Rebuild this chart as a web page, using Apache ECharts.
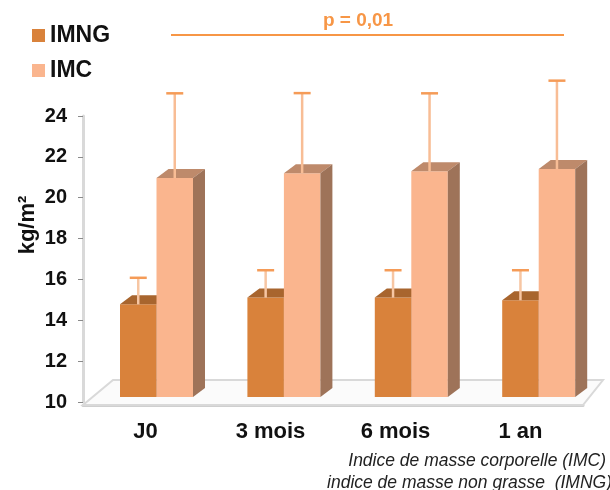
<!DOCTYPE html>
<html>
<head>
<meta charset="utf-8">
<script src="https://cdn.jsdelivr.net/npm/echarts@6/dist/echarts.min.js"></script>
<style>
  html, body { margin: 0; padding: 0; background: #fff; }
  #chart { width: 610px; height: 490px; }
</style>
</head>
<body>
<div id="chart"></div>
<script>
// categories and values
const periods = ["J0", "3 mois", "6 mois", "1 an"]
const imng = [14.78, 15.11, 15.11, 14.98]
const imngSd = [1.30, 1.34, 1.34, 1.47]
const imc = [20.96, 21.2, 21.3, 21.4]
const imcSd = [4.15, 3.92, 3.81, 4.33]
const yTicks = { min: 10, max: 24, step: 2 }

const FONT = "Liberation Sans, Arial, sans-serif"

// 3d look
const depthX = 12
const depthY = 9
const barW = 36.5
const lift = 5 // bars stand a bit above the floor front edge

function barRenderer(slot, front, top, side, whisker, cap) {
    return function (params, api) {
        let idx = api.value(0)
        let v = api.value(1)
        let sd = api.value(2)
        let base = api.coord([idx, yTicks.min])
        let head = api.coord([idx, v])
        let capPt = api.coord([idx, v + sd])
        let band = api.size([1, 0])[0]
        let x0 = base[0] - band / 2 + 37 + 2.4 * idx + slot * barW
        let yb = base[1] - lift
        let yt = head[1]
        let cx = x0 + barW / 2
        return {
            type: "group",
            children: [
                { type: "rect", shape: { x: x0, y: yt, width: barW, height: yb - yt }, style: { fill: front } },
                { type: "polygon", shape: { points: [[x0, yt], [x0 + depthX, yt - depthY], [x0 + barW + depthX, yt - depthY], [x0 + barW, yt]] }, style: { fill: top } },
                { type: "polygon", shape: { points: [[x0 + barW, yt], [x0 + barW + depthX, yt - depthY], [x0 + barW + depthX, yb - depthY], [x0 + barW, yb]] }, style: { fill: side } },
                { type: "line", shape: { x1: cx, y1: yt, x2: cx, y2: capPt[1] }, style: { stroke: whisker, lineWidth: 2.5 } },
                { type: "line", shape: { x1: cx - 8.5, y1: capPt[1], x2: cx + 8.5, y2: capPt[1] }, style: { stroke: cap, lineWidth: 2.5 } }
            ]
        }
    }
}

function floorRenderer(params, api) {
    let p = api.coord([0, yTicks.min])
    let band = api.size([1, 0])[0]
    let left = p[0] - band / 2
    let right = left + band * periods.length
    let y = p[1] + 3
    return {
        type: "polygon",
        shape: { points: [[left, y], [left + 30, y - 25], [right + 20, y - 25], [right, y]] },
        style: { fill: "#fbfbfb", stroke: "#d9d9d9", lineWidth: 2 }
    }
}

let myChart = echarts.init(document.getElementById("chart"), null, { renderer: "canvas" })
let option = {
    animation: false,
    backgroundColor: "#fff",
    grid: { left: 83, right: 27, top: 116, bottom: 88 },
    legend: {
        data: ["IMNG", "IMC"],
        orient: "vertical",
        left: 32,
        top: 24,
        padding: 0,
        icon: "rect",
        itemWidth: 13,
        itemHeight: 13,
        itemGap: 12,
        textStyle: { fontFamily: FONT, fontSize: 23, fontWeight: "bold", color: "#111" }
    },
    xAxis: {
        type: "category",
        data: periods,
        offset: 3,
        axisLine: { lineStyle: { color: "#cfcfcf", width: 3 } },
        axisTick: { length: 6, lineStyle: { color: "#8a8a8a" } },
        axisLabel: { margin: 16, fontFamily: FONT, fontSize: 22, fontWeight: "bold", color: "#111" },
        splitLine: { show: false }
    },
    yAxis: {
        type: "value",
        min: yTicks.min,
        max: yTicks.max,
        interval: yTicks.step,
        axisLine: { show: true, lineStyle: { color: "#d9d9d9", width: 3 } },
        axisTick: { show: true, length: 5, lineStyle: { color: "#8a8a8a" } },
        axisLabel: { margin: 16, fontFamily: FONT, fontSize: 20, fontWeight: "bold", color: "#111" },
        splitLine: { show: false }
    },
    graphic: [
        { type: "text", x: 28, y: 225, rotation: Math.PI / 2, style: { text: "kg/m²", font: "bold 22px " + FONT, fill: "#111", align: "center", verticalAlign: "middle" } },
        { type: "line", shape: { x1: 171, y1: 35, x2: 564, y2: 35 }, style: { stroke: "#F79646", lineWidth: 2 } },
        { type: "text", x: 358, y: 21, style: { text: "p = 0,01", font: "bold 19px " + FONT, fill: "#F79646", align: "center", verticalAlign: "middle" } },
        { type: "text", x: 606, y: 461, style: { text: "Indice de masse corporelle (IMC)", font: "italic 17.5px " + FONT, fill: "#222", align: "right", verticalAlign: "middle" } },
        { type: "text", x: 612, y: 483, style: { text: "indice de masse non grasse  (IMNG)", font: "italic 17.5px " + FONT, fill: "#222", align: "right", verticalAlign: "middle" } }
    ],
    series: [
        {
            type: "custom",
            silent: true,
            clip: false,
            z: 1,
            renderItem: floorRenderer,
            data: [[0, yTicks.min]]
        },
        {
            name: "IMNG",
            type: "custom",
            clip: false,
            z: 2,
            itemStyle: { color: "#D9823B" },
            renderItem: barRenderer(0, "#D9823B", "#A8652E", "#9E5E2A", "#F7C6A3", "#F59B57"),
            data: imng.map((v, i) => [i, v, imngSd[i]])
        },
        {
            name: "IMC",
            type: "custom",
            clip: false,
            z: 3,
            itemStyle: { color: "#FAB58E" },
            renderItem: barRenderer(1, "#FAB58E", "#BE8A6B", "#9E7359", "#F8BD95", "#F59B57"),
            data: imc.map((v, i) => [i, v, imcSd[i]])
        }
    ]
}
myChart.setOption(option)
</script>
</body>
</html>
